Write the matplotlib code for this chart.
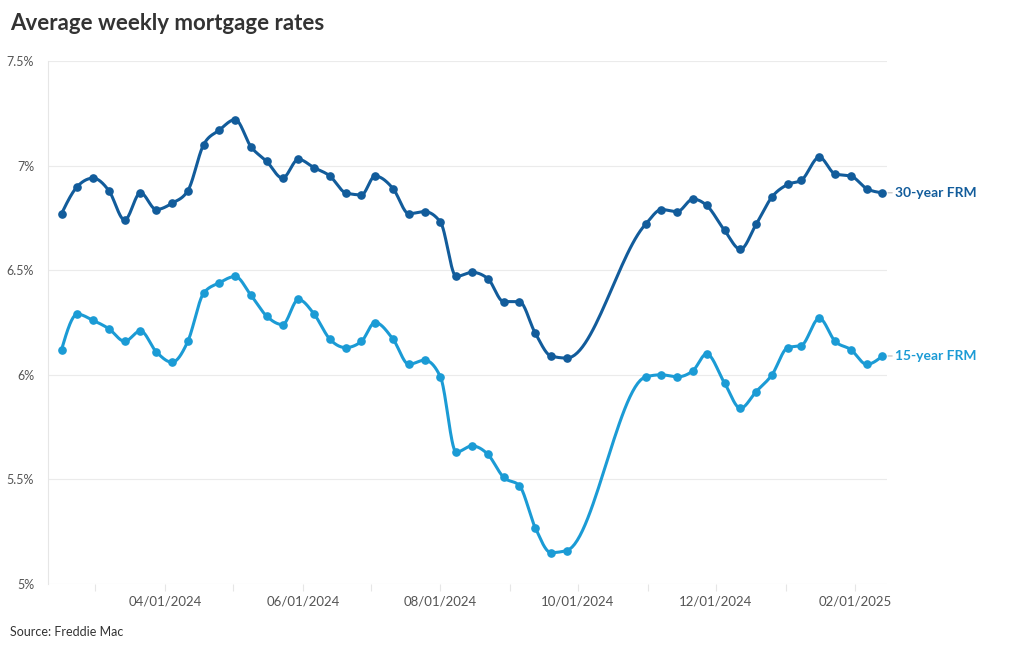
import matplotlib
matplotlib.use("Agg")
import matplotlib.pyplot as plt
import matplotlib.dates as mdates
import numpy as np
from datetime import datetime

# weekly Freddie Mac PMMS readings (October 2024 weeks are absent in the chart)
dates = [
    "2024-02-15", "2024-02-22", "2024-02-29", "2024-03-07", "2024-03-14", "2024-03-21",
    "2024-03-28", "2024-04-04", "2024-04-11", "2024-04-18", "2024-04-25", "2024-05-02",
    "2024-05-09", "2024-05-16", "2024-05-23", "2024-05-30", "2024-06-06", "2024-06-13",
    "2024-06-20", "2024-06-27", "2024-07-03", "2024-07-11", "2024-07-18", "2024-07-25",
    "2024-08-01", "2024-08-08", "2024-08-15", "2024-08-22", "2024-08-29", "2024-09-05",
    "2024-09-12", "2024-09-19", "2024-09-26", "2024-10-31", "2024-11-07", "2024-11-14",
    "2024-11-21", "2024-11-27", "2024-12-05", "2024-12-12", "2024-12-19", "2024-12-26",
    "2025-01-02", "2025-01-08", "2025-01-16", "2025-01-23", "2025-01-30", "2025-02-06",
    "2025-02-13",
]
rate_30 = [
    6.77, 6.90, 6.94, 6.88, 6.74, 6.87, 6.79, 6.82, 6.88, 7.10, 7.17, 7.22,
    7.09, 7.02, 6.94, 7.03, 6.99, 6.95, 6.87, 6.86, 6.95, 6.89, 6.77, 6.78,
    6.73, 6.47, 6.49, 6.46, 6.35, 6.35, 6.20, 6.09, 6.08, 6.72, 6.79, 6.78,
    6.84, 6.81, 6.69, 6.60, 6.72, 6.85, 6.91, 6.93, 7.04, 6.96, 6.95, 6.89,
    6.87,
]
rate_15 = [
    6.12, 6.29, 6.26, 6.22, 6.16, 6.21, 6.11, 6.06, 6.16, 6.39, 6.44, 6.47,
    6.38, 6.28, 6.24, 6.36, 6.29, 6.17, 6.13, 6.16, 6.25, 6.17, 6.05, 6.07,
    5.99, 5.63, 5.66, 5.62, 5.51, 5.47, 5.27, 5.15, 5.16, 5.99, 6.00, 5.99,
    6.02, 6.10, 5.96, 5.84, 5.92, 6.00, 6.13, 6.14, 6.27, 6.16, 6.12, 6.05,
    6.09,
]
series_names = ["30-year FRM", "15-year FRM"]
colors = ["#125c9b", "#1b9bd5"]
y_ticks = [5.0, 5.5, 6.0, 6.5, 7.0, 7.5]


def monotone_curve(x, y, n=30):
    # same shape as d3.curveMonotoneX
    x = np.asarray(x, float)
    y = np.asarray(y, float)
    h = np.diff(x)
    s = np.diff(y) / h
    t = np.zeros_like(y)
    for i in range(1, len(y) - 1):
        p = (s[i - 1] * h[i] + s[i] * h[i - 1]) / (h[i - 1] + h[i])
        t[i] = (np.sign(s[i - 1]) + np.sign(s[i])) * min(abs(s[i - 1]), abs(s[i]), 0.5 * abs(p))
    t[0] = (3 * s[0] - t[1]) / 2
    t[-1] = (3 * s[-1] - t[-2]) / 2
    xs, ys = [], []
    for i in range(len(h)):
        u = np.linspace(0, 1, n, endpoint=False)
        h00 = 2 * u**3 - 3 * u**2 + 1
        h10 = u**3 - 2 * u**2 + u
        h01 = -2 * u**3 + 3 * u**2
        h11 = u**3 - u**2
        xs.append(x[i] + u * h[i])
        ys.append(h00 * y[i] + h10 * h[i] * t[i] + h01 * y[i + 1] + h11 * h[i] * t[i + 1])
    xs.append([x[-1]])
    ys.append([y[-1]])
    return np.concatenate(xs), np.concatenate(ys)


plt.rcParams['font.family'] = ['Lato', 'DejaVu Sans']

fig = plt.figure(figsize=(10.2, 6.5), dpi=100)
ax = fig.add_axes([48 / 1020, 66 / 650, 839 / 1020, 523 / 650])

xd = mdates.date2num([datetime.strptime(d, "%Y-%m-%d") for d in dates])
for vals, name, c in zip([rate_30, rate_15], series_names, colors):
    cx, cy = monotone_curve(xd, vals)
    ax.plot(cx, cy, color=c, lw=2.2, solid_capstyle='round', zorder=3)
    ax.plot(xd, vals, 'o', color=c, ms=5.2, zorder=4)
    ax.annotate("", xy=(xd[-1], vals[-1]), xycoords='data',
                xytext=(7, 0), textcoords='offset points',
                arrowprops=dict(arrowstyle='-', color='#bbbbbb', lw=0.8,
                                shrinkA=0, shrinkB=4))
    ax.annotate(name, xy=(xd[-1], vals[-1]), xytext=(9, 0),
                textcoords='offset points', va='center', ha='left',
                color=c, fontsize=10, fontweight='bold', annotation_clip=False)

ax.set_xlim(mdates.date2num(datetime(2024, 2, 9)), mdates.date2num(datetime(2025, 2, 15)))
ax.set_ylim(5.0, 7.5)
ax.set_yticks(y_ticks)
ax.set_yticklabels(["%g%%" % v for v in y_ticks])
ax.yaxis.grid(True, color='#ebebeb', lw=0.8)
ax.set_axisbelow(True)

ax.xaxis.set_major_locator(mdates.MonthLocator(bymonth=[2, 4, 6, 8, 10, 12]))
ax.xaxis.set_major_formatter(mdates.DateFormatter("%m/%d/%Y"))
ax.xaxis.set_minor_locator(mdates.MonthLocator())

for side in ['top', 'right', 'bottom']:
    ax.spines[side].set_visible(False)
ax.spines['left'].set_color('#e6e6e6')
ax.spines['left'].set_linewidth(0.8)

ax.tick_params(axis='y', length=0, pad=10, labelsize=9, labelcolor='#555555')
ax.tick_params(axis='x', which='both', length=5, color='#e6e6e6', width=0.8)
ax.tick_params(axis='x', which='major', pad=3, labelsize=9.5, labelcolor='#555555')

fig.text(10 / 1020, 1 - 24 / 650, "Average weekly mortgage rates", fontsize=16,
         fontweight='bold', color='#333333', va='center', ha='left')
fig.text(10 / 1020, 1 - 632 / 650, "Source: Freddie Mac", fontsize=9,
         color='#333333', va='center', ha='left')

fig.savefig("out.png", dpi=100)
